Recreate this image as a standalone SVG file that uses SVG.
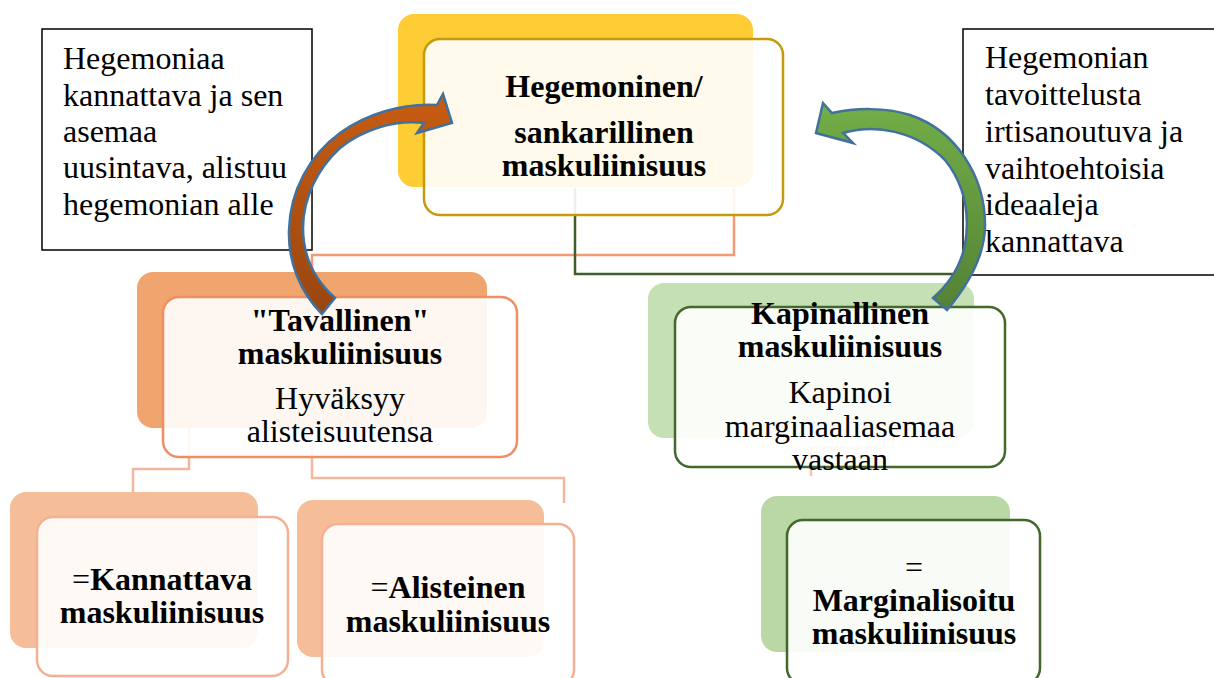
<svg xmlns="http://www.w3.org/2000/svg" width="1214" height="678" viewBox="0 0 1214 678" font-family="'Liberation Serif', Tinos, 'DejaVu Serif', serif">
<defs>
<linearGradient id="gOrange" x1="0" y1="0" x2="0" y2="1">
<stop offset="0" stop-color="#C95C12"/>
<stop offset="1" stop-color="#984610"/>
</linearGradient>
<linearGradient id="gGreen" x1="0" y1="0" x2="0" y2="1">
<stop offset="0" stop-color="#72AE48"/>
<stop offset="1" stop-color="#548235"/>
</linearGradient>
<style>
text{font-family:'Liberation Serif',Tinos,'DejaVu Serif',serif;font-size:32px;fill:#000}
.b{font-weight:bold}
.c{text-anchor:middle}
.n{font-weight:normal}
.front{fill:#ffffff;fill-opacity:0.9;stroke-width:2.5}
.conn{fill:none;stroke-width:2.5}
.arrow{stroke:#41719C;stroke-width:2.5;stroke-linejoin:miter}
.tbox{fill:#ffffff;stroke:#000;stroke-width:1.5}
</style>
</defs>
<rect width="1214" height="678" fill="#ffffff"/>

<g id="connectors">
<path class="conn" stroke="#F19B74" d="M734,188 V255 H312 V272"/>
<path class="conn" stroke="#3E5F28" d="M575,188 V274 H963"/>
<path class="conn" stroke="#F5B79B" d="M189,428 V469 H133 V493"/>
<path class="conn" stroke="#F5B79B" d="M312,428 V478 H564 V503"/>
<path class="conn" stroke="#F6C3AB" d="M884,438 V448 H811 V476"/>
</g>

<g id="node-hegemoninen">
<rect x="398" y="14" width="355" height="173" rx="16" fill="#FECC34"/>
<rect class="front" x="424" y="39" width="359" height="176" rx="16" stroke="#C59A0B"/>
<text class="b c" x="604" y="97">Hegemoninen/</text>
<text class="b c" x="604" y="143">sankarillinen</text>
<text class="b c" x="604" y="176">maskuliinisuus</text>
</g>

<g id="node-tavallinen">
<rect x="137" y="272" width="350" height="156" rx="16" fill="#F1A56E"/>
<rect class="front" x="163" y="297" width="354" height="160" rx="16" stroke="#EF8E63"/>
<text class="b c" x="340" y="331">"Tavallinen"</text>
<text class="b c" x="340" y="364">maskuliinisuus</text>
<text class="c" x="340" y="409">Hyväksyy</text>
<text class="c" x="340" y="442">alisteisuutensa</text>
</g>

<g id="node-kapinallinen">
<rect x="648" y="283" width="326" height="155" rx="16" fill="#C5E0B4"/>
<rect class="front" x="675" y="307" width="330" height="160" rx="16" stroke="#43682B"/>
<text class="b c" x="840" y="324">Kapinallinen</text>
<text class="b c" x="840" y="357">maskuliinisuus</text>
<text class="c" x="840" y="403">Kapinoi</text>
<text class="c" x="840" y="437">marginaaliasemaa</text>
<text class="c" x="840" y="470">vastaan</text>
</g>

<g id="node-kannattava">
<rect x="10" y="492" width="248" height="156" rx="16" fill="#F6BE98"/>
<rect class="front" x="37" y="517" width="251" height="159" rx="16" stroke="#F3B093"/>
<text class="b c" x="162" y="590"><tspan class="n">=</tspan>Kannattava</text>
<text class="b c" x="162" y="623">maskuliinisuus</text>
</g>

<g id="node-alisteinen">
<rect x="297" y="500" width="247" height="157" rx="16" fill="#F6BE98"/>
<rect class="front" x="322" y="524" width="252" height="162" rx="16" stroke="#F3B093"/>
<text class="b c" x="448" y="598"><tspan class="n">=</tspan>Alisteinen</text>
<text class="b c" x="448" y="632">maskuliinisuus</text>
</g>

<g id="node-marginalisoitu">
<rect x="761" y="496" width="249" height="156" rx="16" fill="#B9D8A6"/>
<rect class="front" x="787" y="520" width="253" height="164" rx="16" stroke="#43682B"/>
<text class="c" x="914" y="578">=</text>
<text class="b c" x="914" y="611">Marginalisoitu</text>
<text class="b c" x="914" y="644">maskuliinisuus</text>
</g>

<g id="note-left">
<rect class="tbox" x="42" y="29" width="270" height="221"/>
<text x="63" y="69">Hegemoniaa</text>
<text x="63" y="106">kannattava ja sen</text>
<text x="63" y="142">asemaa</text>
<text x="63" y="178">uusintava, alistuu</text>
<text x="63" y="215">hegemonian alle</text>
</g>

<g id="note-right">
<rect class="tbox" x="963" y="29" width="260" height="246"/>
<text x="985" y="68">Hegemonian</text>
<text x="985" y="105">tavoittelusta</text>
<text x="985" y="142">irtisanoutuva ja</text>
<text x="985" y="179">vaihtoehtoisia</text>
<text x="985" y="215">ideaaleja</text>
<text x="985" y="252">kannattava</text>
</g>

<g id="arrow-orange">
<path class="arrow" fill="url(#gOrange)" d="M322,314 C300,292 288,262 289,230 C290,190 310,155 340,133 C365,115 400,103 437,105 L443,94 L452,123 L417,133 L424,123 C395,119 362,130 340,148 C318,168 303,198 303,228 C303,258 316,281 335,298 Z"/>
</g>

<g id="arrow-green">
<path class="arrow" fill="url(#gGreen)" d="M947,310 C968,285 985,255 985,225 C985,175 955,130 910,115 C885,107 855,108 832,113 L823,103 L816,133 L853,143 L843,133 C875,124 915,130 945,160 C965,185 970,215 965,245 C960,268 948,285 933,298 Z"/>
</g>
</svg>
